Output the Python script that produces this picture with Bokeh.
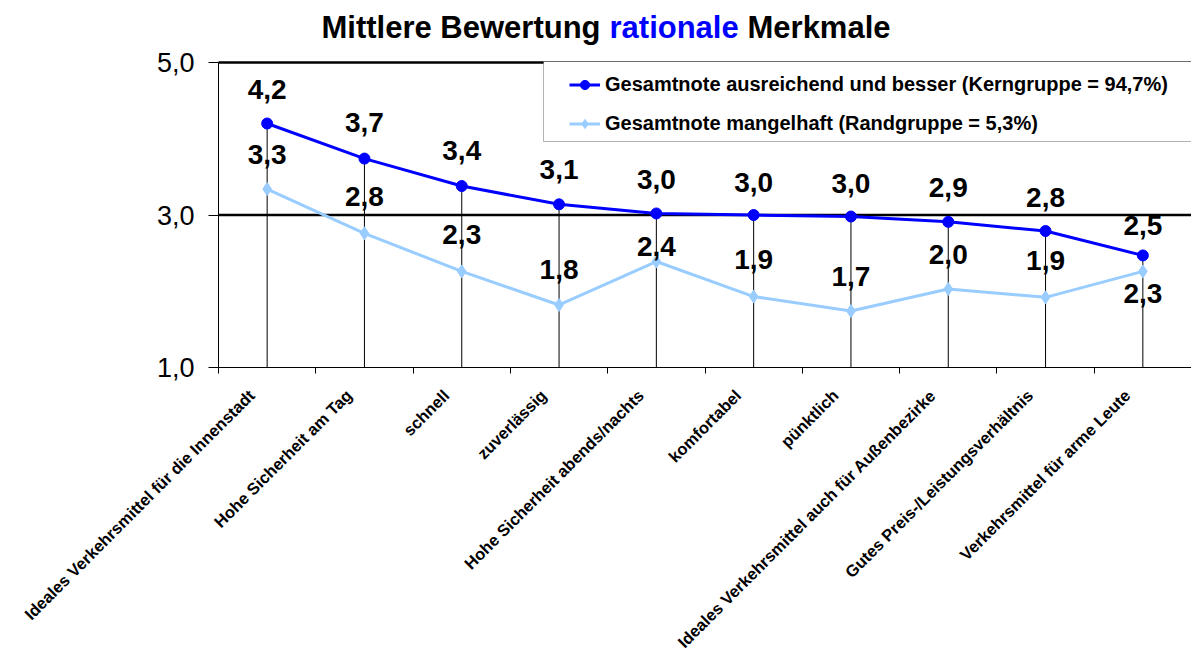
import math
from bokeh.plotting import figure
from bokeh.models import (Range1d, FixedTicker, ColumnDataSource, LabelSet, Label,
                          Legend, LegendItem, BoxAnnotation)
from bokeh.core.properties import value
from bokeh.embed import file_html
from bokeh.resources import INLINE

# ---------------- data ----------------
categories = [
    "Ideales Verkehrsmittel für die Innenstadt",
    "Hohe Sicherheit am Tag",
    "schnell",
    "zuverlässig",
    "Hohe Sicherheit abends/nachts",
    "komfortabel",
    "pünktlich",
    "Ideales Verkehrsmittel auch für Außenbezirke",
    "Gutes Preis-/Leistungsverhältnis",
    "Verkehrsmittel für arme Leute",
]
kern_values = [4.20, 3.74, 3.38, 3.14, 3.02, 3.00, 2.98, 2.91, 2.79, 2.47]
rand_values = [3.34, 2.76, 2.26, 1.82, 2.39, 1.93, 1.74, 2.03, 1.92, 2.26]
kern_name = "Gesamtnote ausreichend und besser (Kerngruppe = 94,7%)"
rand_name = "Gesamtnote mangelhaft (Randgruppe = 5,3%)"
y_ticks = [1, 3, 5]
y_tick_labels = ["1,0", "3,0", "5,0"]
title_parts = ["Mittlere Bewertung", "rationale", "Merkmale"]

# label placement (pixels above the point; negative = below)
kern_label_dy = [34, 36, 36, 35, 34, 33, 33, 34, 34, 30]
rand_label_dy = [35, 37, 37, 35, 15, 37, 35, 34, 37, -22]

FONT = "Liberation Sans"
BLUE = "#0000FF"
LIGHT = "#99CCFF"

n = len(categories)
xs = [i + 0.5 for i in range(n)]
label_ticks = [x - 0.16 for x in xs]   # category labels end slightly left of centre
y_min = y_ticks[0]

# the frame fills the whole canvas; axes are pinned inside it
CANVAS_W, CANVAS_H = 1191, 663
AXIS_X, AXIS_Y = 218, 367      # pixel column of the value axis / row of the 1,0 line
PX_PER_CAT = (CANVAS_W - AXIS_X) / n
PX_PER_UNIT = 76.25
x_left = -AXIS_X / PX_PER_CAT
y_top = y_ticks[-1] + (AXIS_Y - (y_ticks[-1] - y_min) * PX_PER_UNIT) / PX_PER_UNIT
y_bottom = y_min - (CANVAS_H - AXIS_Y) / PX_PER_UNIT


def fmt(v):
    return f"{v:.1f}".replace(".", ",")


p = figure(frame_width=CANVAS_W, frame_height=CANVAS_H, output_backend="svg",
           toolbar_location=None,
           x_range=Range1d(x_left, n), y_range=Range1d(y_bottom, y_top),
           min_border_left=0, min_border_right=0, min_border_top=0,
           min_border_bottom=0, title=None)
p.outline_line_color = None
p.background_fill_color = "white"
p.border_fill_color = "white"

# x axis sits on the 1,0 line; category labels hang below it
p.xaxis.fixed_location = y_min
p.xaxis.bounds = (0, n)
p.xaxis.ticker = FixedTicker(ticks=label_ticks, minor_ticks=list(range(n + 1)))
p.xaxis.major_label_overrides = {x: c for x, c in zip(label_ticks, categories)}
p.xaxis.major_label_orientation = math.pi / 4
p.xaxis.major_label_text_font = FONT
p.xaxis.major_label_text_font_style = "bold"
p.xaxis.major_label_text_font_size = "16.5px"
p.xaxis.major_label_text_color = "black"
p.xaxis.major_label_standoff = 19
p.xaxis.axis_line_color = "black"
p.xaxis.minor_tick_line_color = "black"
p.xaxis.minor_tick_out = 6
p.xaxis.minor_tick_in = 0
p.xaxis.major_tick_line_color = None
p.xaxis.major_tick_out = 0
p.xaxis.major_tick_in = 0

# y axis pinned at the left edge of the category range
p.yaxis.fixed_location = 0
p.yaxis.bounds = (y_ticks[0], y_ticks[-1])
p.yaxis.ticker = FixedTicker(ticks=y_ticks)
p.yaxis.major_label_overrides = {t: l for t, l in zip(y_ticks, y_tick_labels)}
p.yaxis.major_label_text_font = FONT
p.yaxis.major_label_text_font_size = "27px"
p.yaxis.major_label_text_color = "black"
p.yaxis.axis_line_color = "black"
p.yaxis.major_tick_line_color = "black"
p.yaxis.major_tick_out = 10
p.yaxis.major_tick_in = 0
p.yaxis.minor_tick_line_color = None
p.yaxis.major_label_standoff = 14

p.xgrid.visible = False
p.ygrid.visible = False

src = ColumnDataSource(dict(
    x=xs, kern=kern_values, rand=rand_values, base=[y_min] * n,
    kern_txt=[fmt(v) for v in kern_values], rand_txt=[fmt(v) for v in rand_values],
    kdy=kern_label_dy, rdy=rand_label_dy,
))

# heavy horizontal grid lines at 3,0 and 5,0 (only across the category range)
grid_y = y_ticks[1:]
p.segment(x0=[0] * len(grid_y), x1=[n] * len(grid_y), y0=grid_y, y1=grid_y,
          line_color="black", line_width=2.5)

# drop lines
p.segment(x0="x", y0="base", x1="x", y1="kern", source=src, line_color="black", line_width=1)

r_line = p.line("x", "rand", source=src, line_color=LIGHT, line_width=3)
k_line = p.line("x", "kern", source=src, line_color=BLUE, line_width=3)
r_pts = p.scatter("x", "rand", source=src, marker="diamond", size=13,
                  fill_color=LIGHT, line_color=LIGHT)
k_pts = p.scatter("x", "kern", source=src, marker="circle", size=11,
                  fill_color=BLUE, line_color=BLUE)

# value labels
for ycol, tcol, dcol in (("kern", "kern_txt", "kdy"), ("rand", "rand_txt", "rdy")):
    p.add_layout(LabelSet(x="x", y=ycol, text=tcol, y_offset=dcol, source=src,
                          text_font=value(FONT), text_font_style="bold",
                          text_font_size="28px", text_align="center",
                          text_baseline="middle", text_color="black"))

# legend frame (box reaches past the right edge, as in the original)
p.add_layout(BoxAnnotation(left=543, right=CANVAS_W + 20, bottom=CANVAS_H - 141,
                           top=CANVAS_H - 61,
                           left_units="screen", right_units="screen",
                           bottom_units="screen", top_units="screen",
                           fill_color="white", fill_alpha=1.0,
                           line_color="black", line_width=1, level="overlay"))

legend = Legend(items=[LegendItem(label=kern_name, renderers=[k_line, k_pts]),
                       LegendItem(label=rand_name, renderers=[r_line, r_pts])],
                location=(569, CANVAS_H - 135))
legend.label_text_font = FONT
legend.label_text_font_style = "bold"
legend.label_text_font_size = "20px"
legend.label_text_color = "black"
legend.glyph_width = 31
legend.glyph_height = 23
legend.label_height = 23
legend.label_standoff = 5
legend.spacing = 16
legend.padding = 8
legend.margin = 0
legend.border_line_color = None
legend.background_fill_alpha = 0
p.add_layout(legend)

# title (mixed colours), inside the frame above the 5,0 line
title_x = [321, 609, 747]
title_colors = ["black", BLUE, "black"]
for part, tx, c in zip(title_parts, title_x, title_colors):
    p.add_layout(Label(x=tx, y=CANVAS_H - 27, x_units="screen", y_units="screen", text=part,
                       text_font=FONT, text_font_style="bold", text_font_size="31px",
                       text_color=c, text_baseline="middle", text_align="left"))

open("out.html", "w").write(file_html(p, INLINE))
